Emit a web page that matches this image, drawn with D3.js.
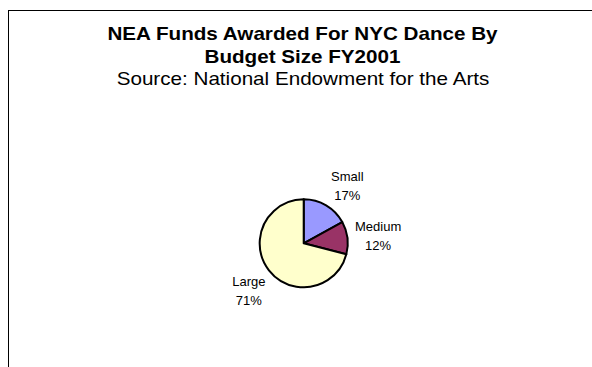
<!DOCTYPE html>
<html>
<head>
<meta charset="utf-8">
<script src="https://cdn.jsdelivr.net/npm/d3@7"></script>
<style>
  html, body { margin: 0; padding: 0; background: #fff; }
  svg { display: block; font-family: "Liberation Sans", Arial, sans-serif; }
</style>
</head>
<body>
<svg id="chart" width="592" height="367"></svg>
<script>
// NEA dance funding share by organisation budget size, FY2001
const categories = ["Small", "Medium", "Large"];
const shares = [17, 12, 71];
const sliceColors = ["#9999FF", "#993366", "#FFFFCC"];

const titleLines = ["NEA Funds Awarded For NYC Dance By", "Budget Size FY2001"];
const subtitle = "Source: National Endowment for the Arts";

const width = 592, height = 367;
const svg = d3.select("#chart");

// chart frame (runs off the right and bottom edges)
svg.append("rect")
  .attr("x", 8.5).attr("y", 10.5)
  .attr("width", 620).attr("height", 400)
  .attr("fill", "#fff")
  .attr("stroke", "#000").attr("stroke-width", 1);

// title lettering is set slightly wide
const titleStretch = 1.115;
function stretch(sel) {
  sel.each(function () {
    const w = this.getComputedTextLength();
    d3.select(this)
      .attr("textLength", w * titleStretch)
      .attr("lengthAdjust", "spacingAndGlyphs");
  });
}

svg.append("g").selectAll("text")
  .data(titleLines)
  .join("text")
  .attr("x", 302.5)
  .attr("y", (d, i) => 40 + i * 22.5)
  .attr("text-anchor", "middle")
  .attr("font-size", 18.5)
  .attr("font-weight", "bold")
  .attr("fill", "#000")
  .text(d => d)
  .call(stretch);

svg.append("text")
  .attr("x", 303).attr("y", 85)
  .attr("text-anchor", "middle")
  .attr("font-size", 18.5)
  .attr("fill", "#000")
  .text(subtitle)
  .call(stretch);

// pie
const cx = 303.7, cy = 243.3, radius = 44;
const data = categories.map((c, i) => ({ name: c, value: shares[i], color: sliceColors[i] }));

const pie = d3.pie().value(d => d.value).sort(null);
const arcs = pie(data);
const arc = d3.arc().innerRadius(0).outerRadius(radius);
const labelArc = d3.arc().innerRadius(radius + 28).outerRadius(radius + 28);

const g = svg.append("g").attr("transform", `translate(${cx},${cy})`);

g.selectAll("path")
  .data(arcs)
  .join("path")
  .attr("d", arc)
  .attr("fill", d => d.data.color)
  .attr("stroke", "#000")
  .attr("stroke-width", 2)
  .attr("stroke-linejoin", "round");

// small layout nudges so each label block sits clear of the rim
const labelNudge = { Small: [7, 4], Medium: [3, 1], Large: [2, 3] };

const labels = g.selectAll("g.label")
  .data(arcs)
  .join("g")
  .attr("class", "label")
  .attr("transform", d => {
    const [x, y] = labelArc.centroid(d);
    const [nx, ny] = labelNudge[d.data.name];
    return `translate(${x + nx},${y + ny})`;
  });

labels.append("text")
  .attr("text-anchor", "middle")
  .attr("font-size", 13)
  .attr("fill", "#000")
  .attr("y", -4.5)
  .text(d => d.data.name);

labels.append("text")
  .attr("text-anchor", "middle")
  .attr("font-size", 13)
  .attr("fill", "#000")
  .attr("y", 14.5)
  .text(d => d.data.value + "%");
</script>
</body>
</html>
